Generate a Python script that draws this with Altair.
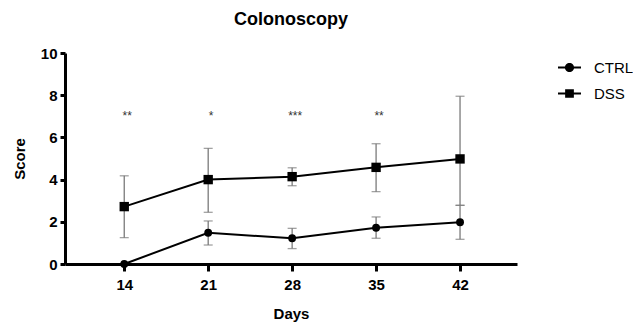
import altair as alt
import pandas as pd

days = [14, 21, 28, 35, 42]
ctrl_mean = [0.0, 1.48, 1.22, 1.72, 1.98]
ctrl_lo = [0.0, 0.90, 0.73, 1.22, 1.17]
ctrl_hi = [0.0, 2.04, 1.69, 2.23, 2.78]
dss_mean = [2.72, 4.0, 4.14, 4.58, 4.98]
dss_lo = [1.25, 2.45, 3.71, 3.43, 2.78]
dss_hi = [4.18, 5.48, 4.56, 5.70, 7.95]
star_days = [14, 21, 28, 35]
star_labels = ["**", "*", "***", "**"]
star_y = [7, 7, 7, 7]

FONT = "Liberation Sans, Arial, Helvetica, sans-serif"

rows = []
for i, d in enumerate(days):
    rows.append({"Days": d, "Group": "CTRL", "Score": ctrl_mean[i], "lo": ctrl_lo[i], "hi": ctrl_hi[i]})
for i, d in enumerate(days):
    rows.append({"Days": d, "Group": "DSS", "Score": dss_mean[i], "lo": dss_lo[i], "hi": dss_hi[i]})
df = pd.DataFrame(rows)
err = df[df["hi"] > df["lo"]]
stars = pd.DataFrame({"Days": star_days, "label": star_labels, "y": star_y})

xscale = alt.Scale(domain=[9.06, 46.75], nice=False, zero=False)
yscale = alt.Scale(domain=[0, 10], nice=False)

xaxis = alt.Axis(values=days, title="Days", grid=False, domainWidth=3, domainColor="black",
                 tickWidth=3, tickSize=7, tickColor="black", labelFontSize=15, labelFontWeight="bold",
                 labelFont=FONT, labelColor="black", labelPadding=6, titleFont=FONT, titleFontSize=15,
                 titleFontWeight="bold", titleColor="black", titlePadding=14, labelFlush=False)
yaxis = alt.Axis(values=[0, 2, 4, 6, 8, 10], title="Score", grid=False, domainWidth=3, domainColor="black",
                 tickWidth=3, tickSize=5, tickColor="black", labelFontSize=15, labelFontWeight="bold",
                 labelFont=FONT, labelColor="black", labelPadding=3, titleFont=FONT, titleFontSize=15,
                 titleFontWeight="bold", titleColor="black", titlePadding=13, labelFlush=False)

base = alt.Chart(df)

rules = alt.Chart(err).mark_rule(color="#7a7a7a", strokeWidth=1.3).encode(
    x=alt.X("Days:Q", scale=xscale, axis=xaxis),
    y=alt.Y("lo:Q", scale=yscale, axis=yaxis),
    y2="hi:Q",
)
caps_hi = alt.Chart(err).mark_tick(orient="horizontal", size=9, thickness=1.3, color="#7a7a7a").encode(
    x=alt.X("Days:Q", scale=xscale), y=alt.Y("hi:Q", scale=yscale))
caps_lo = alt.Chart(err).mark_tick(orient="horizontal", size=9, thickness=1.3, color="#7a7a7a").encode(
    x=alt.X("Days:Q", scale=xscale), y=alt.Y("lo:Q", scale=yscale))

lines = base.mark_line(color="black", strokeWidth=2).encode(
    x=alt.X("Days:Q", scale=xscale), y=alt.Y("Score:Q", scale=yscale), detail="Group:N")

points = base.mark_point(filled=True, color="black", opacity=1).encode(
    x=alt.X("Days:Q", scale=xscale), y=alt.Y("Score:Q", scale=yscale),
    shape=alt.Shape("Group:N", scale=alt.Scale(domain=["CTRL", "DSS"], range=["circle", "square"]), legend=None),
    size=alt.Size("Group:N", scale=alt.Scale(domain=["CTRL", "DSS"], range=[62, 88]), legend=None),
)

circ_path = ("M-1,-0.08H1V0.08H-1Z"
             "M-0.4,0A0.4,0.4,0,1,1,0.4,0A0.4,0.4,0,1,1,-0.4,0Z")
sq_path = "M-1,-0.08H1V0.08H-1ZM-0.38,-0.38H0.38V0.38H-0.38Z"
legend_layer = base.mark_point(filled=True, color="black", opacity=0).encode(
    x=alt.X("Days:Q", scale=xscale), y=alt.Y("Score:Q", scale=yscale),
    shape=alt.Shape("Group:N", scale=alt.Scale(domain=["CTRL", "DSS"], range=[circ_path, sq_path]),
                    legend=alt.Legend(title=None, orient="none", legendX=492, legendY=2, padding=0,
                                      symbolSize=529, symbolFillColor="black",
                                      symbolOpacity=1, labelFont=FONT, labelFontSize=15,
                                      labelColor="black", labelOffset=12, rowPadding=5)),
)

star_text = alt.Chart(stars).mark_text(fontSize=12, color="#333333", font=FONT, dx=3, baseline="middle").encode(
    x=alt.X("Days:Q", scale=xscale), y=alt.Y("y:Q", scale=yscale), text="label:N")

chart = alt.layer(rules, caps_hi, caps_lo, lines, points, legend_layer, star_text).resolve_scale(
    shape="independent", size="independent"
).properties(
    width=452, height=211,
    title=alt.TitleParams("Colonoscopy", font=FONT, fontSize=18, fontWeight="bold", color="black",
                          anchor="middle", offset=17),
    autosize=alt.AutoSizeParams(type="none"),
    padding={"left": 57, "top": 45, "right": 116, "bottom": 58},
).configure_view(stroke=None)

chart.save("out.html", embed_options={"renderer": "svg", "actions": False})
